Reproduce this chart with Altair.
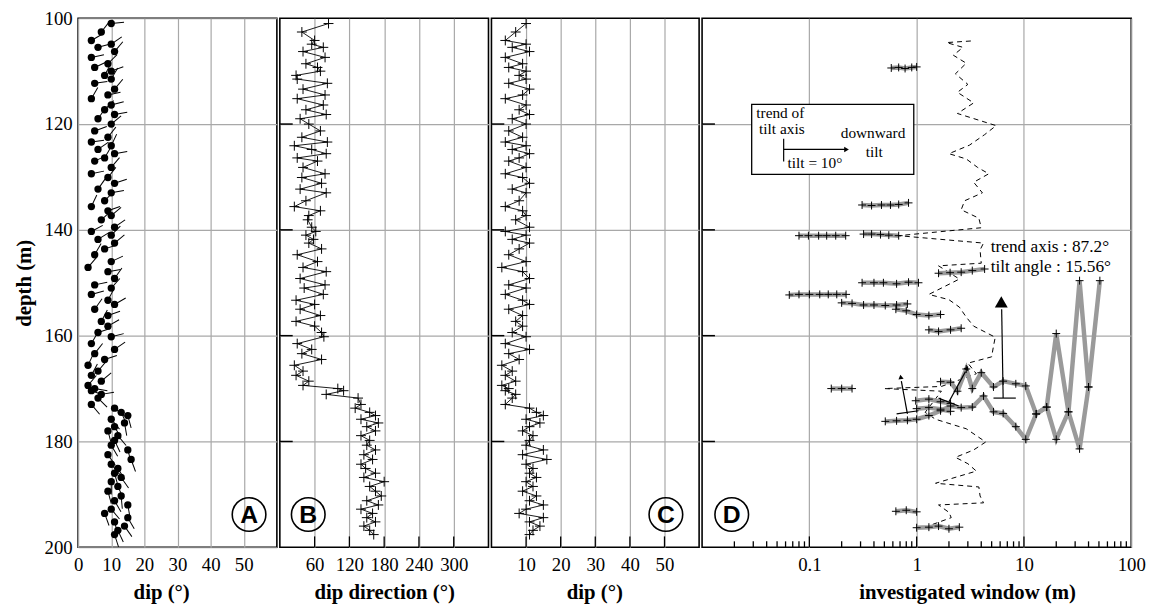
import altair as alt
import pandas as pd

SERIF = "Liberation Serif"
SANS = "Liberation Sans"
H = 535
W_A, W_B, W_C, W_D = 201, 211, 210, 434

# ---------------- borehole data (panels A, B, C) ----------------
depth = [
    101.0, 102.6, 104.2, 104.9, 105.5, 106.3, 107.4, 108.6, 109.3, 110.0,
    110.8, 111.5, 112.3, 113.4, 114.5, 115.2, 116.4, 117.3, 118.2, 119.0,
    120.0, 121.3, 122.5, 123.4, 124.1, 124.8, 125.6, 126.4, 127.0, 128.2,
    129.4, 130.1, 131.2, 132.3, 133.0, 134.5, 135.6, 136.4, 137.3, 138.1,
    139.5, 140.3, 141.0, 141.8, 142.5, 143.6, 144.7, 146.0, 147.1, 147.9,
    149.2, 150.4, 151.0, 152.2, 153.3, 154.1, 155.0, 156.2, 157.3, 158.2,
    159.4, 160.2, 161.5, 162.6, 163.4, 164.5, 165.6, 166.7, 167.5, 168.6,
    169.4, 170.0, 170.4, 171.1, 171.8, 173.0, 173.7, 174.5, 175.1, 175.8,
    176.5, 177.2, 178.0, 178.9, 179.8, 180.7, 181.6, 182.5, 183.4, 184.3,
    185.1, 186.0, 186.8, 187.6, 188.5, 189.4, 190.3, 191.2, 192.0, 192.8,
    193.6, 194.4, 195.2, 196.0, 196.8, 197.6,
]
dip_direction = [
    84, 38, 60, 55, 75, 40, 78, 45, 65, 70,
    28, 30, 82, 40, 78, 30, 75, 45, 80, 35,
    50, 70, 38, 82, 25, 55, 80, 30, 65, 40,
    78, 38, 72, 35, 80, 45, 25, 70, 50, 48,
    55, 62, 45, 58, 50, 72, 30, 65, 40, 80,
    35, 78, 42, 75, 28, 60, 35, 70, 28, 60,
    72, 76, 30, 55, 38, 72, 25, 40, 28, 50,
    40, 100, 110, 80, 135, 140, 130, 155, 165, 140,
    170, 150, 165, 140, 155, 150, 165, 145, 160, 140,
    148, 165, 145, 180, 155, 165, 175, 150, 170, 140,
    160, 150, 165, 145, 155, 162,
]
dip = [
    10, 7, 4, 10, 6, 11, 4, 9, 5, 10,
    8, 10, 5, 11, 9, 4, 10, 8, 11, 6,
    10, 5, 9, 4, 10, 6, 11, 8, 5, 10,
    4, 9, 11, 6, 10, 8, 4, 9, 10, 7,
    11, 4, 10, 6, 11, 8, 5, 10, 3, 9,
    11, 5, 10, 4, 9, 11, 5, 9, 7, 9,
    6, 10, 4, 11, 5, 8, 3, 6, 4, 7,
    3, 5, 4, 7, 6, 4, 11, 13, 15, 10,
    14, 11, 9, 12, 11, 10, 15, 9, 16, 10,
    12, 11, 13, 10, 12, 9, 13, 11, 15, 10,
    8, 15, 11, 14, 12, 11,
]

# ---------------- panel D: investigated window (m) vs depth ----------------
seg_109 = [(0.58, 109.4), (0.68, 109.3), (0.78, 109.5), (0.9, 109.3), (1.0, 109.2)]
seg_135 = [(0.31, 135.3), (0.38, 135.4), (0.47, 135.3), (0.57, 135.3), (0.68, 135.2), (0.84, 134.9)]
seg_141a = [(0.08, 141.1), (0.098, 141.1), (0.122, 141.1), (0.145, 141.1), (0.176, 141.1), (0.218, 141.1)]
seg_141b = [(0.32, 140.8), (0.38, 140.8), (0.46, 140.9), (0.55, 141.0), (0.68, 141.1)]
seg_148 = [(1.6, 148.2), (2.05, 148.1), (2.6, 148.0), (3.3, 147.7), (4.3, 147.4)]
seg_150 = [(0.31, 150.0), (0.4, 150.0), (0.49, 150.0), (0.65, 150.2), (0.84, 149.9), (1.04, 150.0)]
seg_152 = [(0.065, 152.3), (0.08, 152.2), (0.1, 152.2), (0.125, 152.2), (0.15, 152.2), (0.18, 152.2), (0.22, 152.2)]
seg_154a = [(0.2, 153.8), (0.25, 153.9), (0.32, 154.2), (0.4, 154.2), (0.51, 154.3), (0.65, 154.2), (0.82, 154.0)]
seg_154b = [(0.64, 155.0), (0.8, 155.3), (1.0, 156.0), (1.3, 156.2), (1.67, 156.0)]
seg_158 = [(1.3, 158.9), (1.6, 159.2), (2.07, 158.9), (2.6, 158.6)]
seg_170 = [(0.16, 170.0), (0.2, 170.0), (0.25, 170.0)]
seg_172 = [(0.98, 172.3), (1.3, 172.0), (1.67, 172.5), (2.07, 172.8)]
seg_173 = [(1.0, 173.8), (1.3, 173.6), (1.67, 173.9), (2.07, 174.3)]
seg_lower = [(0.51, 176.2), (0.65, 176.1), (0.82, 176.0), (1.0, 175.8), (1.3, 175.1), (1.67, 174.2),
             (2.07, 173.3), (2.6, 173.6), (3.3, 173.5), (4.2, 171.4), (5.2, 174.4), (6.4, 174.7),
             (8.4, 177.2), (10.4, 179.6), (13.0, 174.8), (16.3, 173.5), (20.0, 179.6), (26.0, 174.4),
             (33.0, 181.4), (40.0, 169.7)]
seg_upper = [(1.67, 168.7), (2.07, 168.8), (2.4, 170.5), (2.9, 166.3), (3.3, 170.0), (4.0, 167.0),
             (5.2, 169.7), (6.4, 168.6), (8.4, 169.1), (10.4, 169.5), (13.0, 174.8), (16.3, 173.5),
             (20.0, 159.6), (26.0, 174.4), (33.0, 149.6), (40.0, 169.7), (51.0, 149.6)]
seg_193 = [(0.64, 193.2), (0.8, 193.0), (1.0, 193.3)]
seg_196 = [(1.0, 196.3), (1.3, 196.2), (1.6, 196.0), (2.0, 196.5), (2.5, 196.2)]

dashed = [(3.2, 104.3), (1.9, 104.6), (2.7, 105.5), (2.2, 107.0), (2.9, 108.5), (2.3, 110.5),
          (3.0, 112.5), (2.4, 114.0), (3.4, 116.0), (2.4, 118.0), (5.5, 120.3), (4.3, 122.0),
          (3.1, 124.0), (2.0, 125.6), (2.9, 126.6), (3.7, 128.2), (4.7, 129.4), (3.4, 131.0),
          (4.1, 133.0), (2.8, 134.5), (2.6, 136.2), (3.8, 137.8), (4.0, 139.6), (0.68, 141.1),
          (4.2, 142.5), (3.9, 143.8), (4.0, 146.3), (1.6, 146.8), (2.5, 149.3), (1.3, 152.2),
          (2.0, 153.2), (2.5, 154.6), (2.9, 156.5), (3.4, 158.2), (5.4, 160.3), (5.2, 162.0),
          (5.0, 164.0), (3.0, 165.2), (3.6, 167.2), (1.7, 169.6), (0.5, 170.0), (1.7, 170.5),
          (1.2, 174.5), (1.5, 175.8), (2.9, 177.6), (4.4, 180.1), (3.4, 181.6), (2.3, 183.0),
          (3.0, 184.2), (3.6, 185.6), (1.5, 187.9), (3.8, 188.6), (3.9, 190.3), (4.2, 191.6),
          (1.6, 192.0), (2.0, 193.4), (2.1, 194.4), (1.4, 195.7), (2.0, 196.6)]

# tilt vectors: base -> tip (window, depth)
arrow_base_w = [6.4, 0.82, 2.0]
arrow_base_d = [171.8, 174.8, 172.5]
arrow_tip_w = [6.2, 0.72, 2.85]
arrow_tip_d = [155.0, 168.6, 166.8]
arrow_head_w = [6.15, 0.71, 2.95]
arrow_head_d = [153.6, 167.8, 166.1]
arrow_head_angle = [0, 351, 27]
arrow_head_size = [170, 28, 28]
tick_w0 = [5.2, 0.65, 1.6]
tick_d0 = [171.8, 174.8, 171.8]
tick_w1 = [8.4, 1.04, 2.46]
tick_d1 = [171.8, 174.2, 173.3]

# legend box inside panel D
box_w = [0.029, 0.94]
box_d = [116.3, 129.5]
legend_texts = ["trend of", "tilt axis", "downward", "tilt", "tilt = 10°"]
legend_w = [0.032, 0.034, 0.196, 0.335, 0.0626]
legend_d = [118.9, 121.9, 122.6, 126.2, 128.4]
notes = ["trend axis : 87.2°", "tilt angle : 15.56°"]
notes_w = [4.9, 4.9]
notes_d = [144.1, 147.9]

# axis ticks
depth_ticks = [100, 120, 140, 160, 180, 200]
inner_depth_ticks = [120, 140, 160, 180]
dipA_ticks = [0, 10, 20, 30, 40, 50]
dir_ticks = [60, 120, 180, 240, 300]
dipC_ticks = [10, 20, 30, 40, 50]
win_ticks = [0.1, 1, 10, 100]
win_major_inner = [0.1, 1, 10]
win_minor = [0.02, 0.03, 0.04, 0.05, 0.06, 0.07, 0.08, 0.09,
             0.2, 0.3, 0.4, 0.5, 0.6, 0.7, 0.8, 0.9,
             2, 3, 4, 5, 6, 7, 8, 9,
             20, 30, 40, 50, 60, 70, 80, 90]

# panel letters
letters = ["A", "B", "C", "D"]
letter_x = [51.6, 49.0, 50.4, 0.0189]
letter_d = [193.8, 193.8, 193.8, 193.8]

# ---------------- build tables ----------------
core = pd.DataFrame({"depth": depth, "dir": dip_direction, "dip": dip})
core["idx"] = range(len(core))

seg_list = [("s109", seg_109), ("s135", seg_135), ("s141a", seg_141a), ("s141b", seg_141b),
            ("s148", seg_148), ("s150", seg_150), ("s152", seg_152), ("s154a", seg_154a),
            ("s154b", seg_154b), ("s158", seg_158), ("s170", seg_170), ("s172", seg_172),
            ("s173", seg_173), ("slow", seg_lower), ("sup", seg_upper), ("s193", seg_193),
            ("s196", seg_196)]
rows = []
for name, seg in seg_list:
    for k, (w, d) in enumerate(seg):
        rows.append({"seg": name, "k": k, "w": w, "depth": d})
segdf = pd.DataFrame(rows)
dashdf = pd.DataFrame({"w": [p[0] for p in dashed], "depth": [p[1] for p in dashed]})
dashdf["k"] = range(len(dashdf))
arrowdf = pd.DataFrame({"w0": arrow_base_w, "d0": arrow_base_d, "w1": arrow_tip_w, "d1": arrow_tip_d})
headdf = pd.DataFrame({"w": arrow_head_w, "depth": arrow_head_d, "ang": arrow_head_angle, "sz": arrow_head_size})
tickdf = pd.DataFrame({"w0": tick_w0, "d0": tick_d0, "w1": tick_w1, "d1": tick_d1})
boxdf = pd.DataFrame({"w0": [box_w[0]], "w1": [box_w[1]], "d0": [box_d[0]], "d1": [box_d[1]]})
legdf = pd.DataFrame({"t": legend_texts, "w": legend_w, "depth": legend_d})
notedf = pd.DataFrame({"t": notes, "w": notes_w, "depth": notes_d})
legtick = pd.DataFrame({"w": [0.0576], "d0": [122.8], "d1": [127.1]})
legarrow = pd.DataFrame({"w0": [0.0576], "w1": [0.215], "d": [124.8]})
leghead = pd.DataFrame({"w": [0.222], "depth": [124.8]})

# ---------------- encodings ----------------
yscale = alt.Scale(domain=[100, 200], reverse=True, nice=False, zero=False)
axis_y_main = alt.Axis(values=depth_ticks, title="depth (m)", grid=True, labelPadding=6,
                       titlePadding=10)
axis_y_inner = alt.Axis(values=inner_depth_ticks, title=None, grid=True, labels=False)


def Y(field, main):
    return alt.Y(f"{field}:Q", scale=yscale, axis=axis_y_main if main else axis_y_inner)


def Y2(field):
    return alt.Y2(f"{field}:Q")


def xaxis(vals, title, fmt=None, title_x=None):
    kw = dict(values=vals, title=title, grid=True, labelPadding=8, titlePadding=8)
    if fmt:
        kw["format"] = fmt
    if title_x is not None:
        kw["titleX"] = title_x
    return alt.Axis(**kw)


scaleA = alt.Scale(domain=[0, 60], nice=False, zero=False)
scaleB = alt.Scale(domain=[0, 360], nice=False, zero=False)
scaleC = alt.Scale(domain=[0, 60], nice=False, zero=False)
scaleD = alt.Scale(type="log", domain=[0.01, 100], nice=False)
axA = xaxis(dipA_ticks, "dip (°)", title_x=84)
axB = xaxis(dir_ticks, "dip direction (°)")
axC = xaxis(dipC_ticks, "dip (°)", title_x=104)
axD = xaxis(win_ticks, "investigated window (m)", "~g", title_x=268)

CROSS = "M-1,0L1,0M0,-1L0,1"


def letter_layers(xfield_scale, xaxis_obj, i, main=False):
    df = pd.DataFrame({"x": [letter_x[i]], "depth": [letter_d[i]], "t": [letters[i]]})
    base = alt.Chart(df).encode(x=alt.X("x:Q", scale=xfield_scale, axis=xaxis_obj), y=Y("depth", main))
    circ = base.mark_point(shape="circle", size=1156, filled=False, color="black", strokeWidth=1.6, opacity=1)
    txt = base.mark_text(font=SANS, fontWeight="bold", fontSize=25, color="black",
                         align="center", baseline="middle", dy=1).encode(text="t:N")
    return [circ, txt]


def left_ticks():
    df = pd.DataFrame({"v": inner_depth_ticks})
    return alt.Chart(df).mark_rule(color="black", strokeWidth=1.5).encode(
        x=alt.value(0), x2=alt.value(13), y=Y("v", False))


def bottom_ticks(vals, xscale, xax, length=11):
    df = pd.DataFrame({"v": vals})
    return alt.Chart(df).mark_rule(color="black", strokeWidth=1.3).encode(
        x=alt.X("v:Q", scale=xscale, axis=xax), y=alt.value(H), y2=alt.value(H - length))


# ---------------- panel A ----------------
baseA = alt.Chart(core).encode(x=alt.X("dip:Q", scale=scaleA, axis=axA), y=Y("depth", True))
tails = baseA.mark_point(shape="M0,0L0,-1", size=676, filled=False, color="black",
                         strokeWidth=1, opacity=1).encode(angle=alt.Angle("dir:Q", scale=None))
heads = baseA.mark_point(shape="circle", size=55, filled=True, color="black", opacity=1)
panelA = alt.layer(tails, heads, *letter_layers(scaleA, axA, 0, True)).properties(width=W_A, height=H)

# ---------------- panel B ----------------
baseB = alt.Chart(core).encode(x=alt.X("dir:Q", scale=scaleB, axis=axB), y=Y("depth", False),
                               order="idx:Q")
lineB = baseB.mark_line(color="black", strokeWidth=0.9)
ptsB = baseB.mark_point(shape=CROSS, size=100, filled=False, color="black", strokeWidth=1, opacity=1)
panelB = alt.layer(lineB, ptsB, left_ticks(), bottom_ticks(dir_ticks, scaleB, axB),
                   *letter_layers(scaleB, axB, 1)).properties(width=W_B, height=H)

# ---------------- panel C ----------------
baseC = alt.Chart(core).encode(x=alt.X("dip:Q", scale=scaleC, axis=axC), y=Y("depth", False),
                               order="idx:Q")
lineC = baseC.mark_line(color="black", strokeWidth=0.9)
ptsC = baseC.mark_point(shape=CROSS, size=100, filled=False, color="black", strokeWidth=1, opacity=1)
panelC = alt.layer(lineC, ptsC, left_ticks(), bottom_ticks(dipC_ticks, scaleC, axC),
                   *letter_layers(scaleC, axC, 2)).properties(width=W_C, height=H)

# ---------------- panel D ----------------
XD = lambda f: alt.X(f"{f}:Q", scale=scaleD, axis=axD)
dash = alt.Chart(dashdf).mark_line(color="black", strokeWidth=1, strokeDash=[5, 4]).encode(
    x=XD("w"), y=Y("depth", False), order="k:Q")
gray = alt.Chart(segdf).mark_line(color="#9a9a9a", strokeWidth=4.5).encode(
    x=XD("w"), y=Y("depth", False), detail="seg:N", order="k:Q")
grayPts = alt.Chart(segdf).mark_point(shape=CROSS, size=64, filled=False, color="black",
                                      strokeWidth=1, opacity=1).encode(x=XD("w"), y=Y("depth", False))
shafts = alt.Chart(arrowdf).mark_rule(color="black", strokeWidth=1.2).encode(
    x=XD("w0"), x2=alt.X2("w1:Q"), y=Y("d0", False), y2=Y2("d1"))
heads_D = alt.Chart(headdf).mark_point(shape="triangle-up", filled=True, color="black", opacity=1).encode(
    x=XD("w"), y=Y("depth", False), angle=alt.Angle("ang:Q", scale=None),
    size=alt.Size("sz:Q", scale=None, legend=None))
bases = alt.Chart(tickdf).mark_rule(color="black", strokeWidth=1.2).encode(
    x=XD("w0"), x2=alt.X2("w1:Q"), y=Y("d0", False), y2=Y2("d1"))
box = alt.Chart(boxdf).mark_rect(fill="white", stroke="black", strokeWidth=1.3).encode(
    x=XD("w0"), x2=alt.X2("w1:Q"), y=Y("d0", False), y2=Y2("d1"))
legtxt = alt.Chart(legdf).mark_text(font=SERIF, fontSize=15.5, color="black", align="left",
                                    baseline="alphabetic").encode(x=XD("w"), y=Y("depth", False), text="t:N")
legT = alt.Chart(legtick).mark_rule(color="black", strokeWidth=1.2).encode(
    x=XD("w"), y=Y("d0", False), y2=Y2("d1"))
legA = alt.Chart(legarrow).mark_rule(color="black", strokeWidth=1.2).encode(
    x=XD("w0"), x2=alt.X2("w1:Q"), y=Y("d", False))
legH = alt.Chart(leghead).mark_point(shape="triangle-right", filled=True, color="black", size=30,
                                     opacity=1).encode(x=XD("w"), y=Y("depth", False))
notetxt = alt.Chart(notedf).mark_text(font=SERIF, fontSize=17.5, color="black", align="left",
                                      baseline="alphabetic").encode(x=XD("w"), y=Y("depth", False), text="t:N")

panelD = alt.layer(
    dash, gray, grayPts, shafts, heads_D, bases, box, legtxt, legT, legA, legH, notetxt,
    left_ticks(),
    bottom_ticks(win_major_inner, scaleD, axD, 11),
    bottom_ticks(win_minor, scaleD, axD, 6),
    *letter_layers(scaleD, axD, 3),
).properties(width=W_D, height=H)

chart = alt.hconcat(panelA, panelB, panelC, panelD, spacing=0).configure_view(
    stroke="black", strokeWidth=1.6
).configure_axis(
    labelFont=SERIF, titleFont=SERIF, labelFontSize=19, titleFontSize=21, titleFontWeight="bold",
    labelColor="black", titleColor="black", gridColor="#a8a8a8", gridWidth=1.2,
    domain=False, ticks=False, labelFlush=False
).properties(background="white", padding={"left": 12, "top": 5, "right": 5, "bottom": 5})

chart.save("out.html", embed_options={"renderer": "svg", "actions": False})
